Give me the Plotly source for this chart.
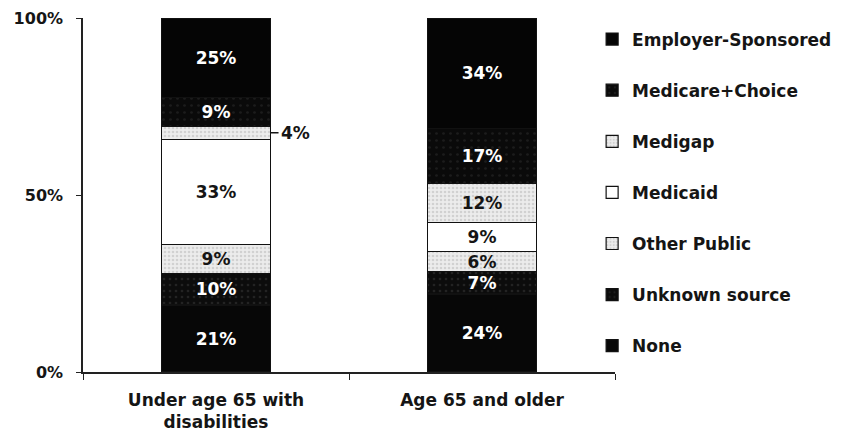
import plotly.graph_objects as go

# Insurance source shares, listed from the bottom of each stack upward
categories = ["Under age 65 with<br>disabilities", "Age 65 and older"]
sources = ["None", "Unknown source", "Other Public", "Medicaid",
           "Medigap", "Medicare+Choice", "Employer-Sponsored"]
under_65_disabled = [21, 10, 9, 33, 4, 9, 25]
age_65_older = [24, 7, 6, 9, 12, 17, 34]

FONT = "DejaVu Sans"
INK = "#151515"
BAR_W = 0.41


def bold(size, color=INK):
    return dict(family=FONT, size=size, color=color, weight="bold")


styles = {
    "None": dict(color="#070707", pattern=None, text="white"),
    "Unknown source": dict(color="#0c0c0c",
                           pattern=dict(shape=".", fgcolor="#3a3a3a", size=6, solidity=0.15),
                           text="white"),
    "Other Public": dict(color="#ececec",
                         pattern=dict(shape=".", fgcolor="#b5b5b5", size=4, solidity=0.35),
                         text=INK),
    "Medicaid": dict(color="#ffffff", pattern=None, text=INK),
    "Medigap": dict(color="#ececec",
                    pattern=dict(shape=".", fgcolor="#b5b5b5", size=4, solidity=0.35),
                    text=INK),
    "Medicare+Choice": dict(color="#0a0a0a",
                            pattern=dict(shape=".", fgcolor="#2e2e2e", size=7, solidity=0.12),
                            text="white"),
    "Employer-Sponsored": dict(color="#050505", pattern=None, text="white"),
}

# The 4% Medigap share is too thin to hold its label; it is labelled outside the bar
outside = {("Medigap", 0)}

fig = go.Figure()
for i, name in enumerate(sources):
    vals = [under_65_disabled[i], age_65_older[i]]
    st = styles[name]
    labels = ["" if (name, j) in outside else f"{v}%" for j, v in enumerate(vals)]
    marker = dict(color=st["color"], line=dict(color="#111111", width=1.2))
    if st["pattern"]:
        marker["pattern"] = dict(bgcolor=st["color"], **st["pattern"])
    fig.add_trace(go.Bar(
        x=categories, y=vals, name=name, legendgroup=name,
        legendrank=100 - i,
        marker=marker, width=BAR_W,
        text=labels, textposition="inside", insidetextanchor="middle",
        textangle=0,
        textfont=bold(17, st["text"]),
        hoverinfo="skip",
    ))

# Leader-line label for the thin Medigap segment of the first bar
for (name, j) in outside:
    k = sources.index(name)
    col = [under_65_disabled, age_65_older][j]
    total = sum(col)
    mid = (sum(col[:k]) + col[k] / 2) / total * 100
    fig.add_annotation(
        x=j + BAR_W / 2, y=mid, xref="x", yref="y",
        text=f"{col[k]}%", showarrow=True, arrowhead=0, arrowwidth=1.5,
        arrowcolor=INK, ax=8, ay=0, xanchor="left",
        font=bold(17),
    )

fig.update_layout(
    barmode="stack", barnorm="percent", bargap=0.59,
    width=843, height=445,
    margin=dict(l=83, r=228, t=18, b=73, autoexpand=False),
    paper_bgcolor="white", plot_bgcolor="white",
    font=bold(16),
    uniformtext=dict(minsize=15, mode="show"),
    showlegend=True,
    legend=dict(
        x=0.957, xanchor="left", y=0.99, yanchor="top",
        traceorder="grouped", tracegroupgap=26,
        font=bold(17),
        itemwidth=30, bgcolor="rgba(0,0,0,0)",
    ),
)
fig.update_xaxes(
    showline=True, linecolor="#222222", linewidth=1.5,
    ticks="outside", tickson="boundaries", ticklen=6, tickcolor="#222222",
    ticklabelstandoff=12,
    tickfont=bold(17),
    showgrid=False,
)
fig.update_yaxes(
    range=[0, 100], tickvals=[0, 50, 100], ticktext=["0%", "50%", "100%"],
    showline=True, linecolor="#222222", linewidth=1.5,
    ticks="outside", ticklen=5, tickcolor="#222222", ticklabelstandoff=10,
    tickfont=bold(16),
    showgrid=False, zeroline=False,
)

fig.write_html("out.html")
